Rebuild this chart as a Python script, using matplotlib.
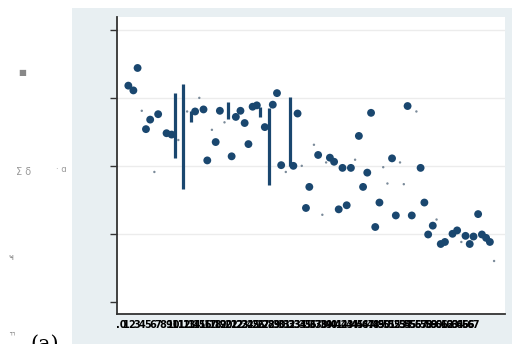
import numpy as np
import matplotlib
matplotlib.use("Agg")
import matplotlib.pyplot as plt
from matplotlib.patches import Rectangle

# estimates (large markers)
est_x = [0, 1.2, 2.2, 4.2, 5.2, 7.1, 9.1, 10.3, 15.9, 17.9, 18.8, 20.8, 21.8,
         24.6, 25.6, 26.7, 27.7, 28.6, 29.6, 30.6, 32.5, 34.4, 35.4, 36.4,
         39.3, 40.3, 42.3, 43.1, 45.2, 48.0, 49.0, 50.1, 51.0, 52.0, 53.0,
         54.9, 55.9, 56.9, 57.8, 58.8, 59.8, 62.8, 63.7, 66.5, 67.5, 69.6,
         70.5, 71.4, 72.5, 74.4, 75.4, 77.2, 78.3, 80.3, 81.3, 82.2, 83.3,
         84.2, 85.2, 86.1]
est_y = [3.18, 3.11, 3.44, 2.54, 2.68, 2.76, 2.48, 2.46, 2.80, 2.83, 2.08, 2.35,
         2.81, 2.14, 2.72, 2.81, 2.63, 2.32, 2.87, 2.89, 2.57, 2.90, 3.07, 2.01,
         2.00, 2.77, 1.38, 1.69, 2.16, 2.12, 2.06, 1.36, 1.97, 1.42, 1.97,
         2.44, 1.69, 1.90, 2.78, 1.10, 1.46, 2.11, 1.27, 2.88, 1.27, 1.97,
         1.46, 0.99, 1.12, 0.85, 0.88, 1.00, 1.05, 0.97, 0.85, 0.96, 1.29,
         0.99, 0.94, 0.88]

# raw observations (small markers)
obs_x = [3.2, 6.2, 11.9, 14.0, 16.9, 19.9, 22.9, 37.5, 41.3, 44.2, 46.2, 47.1,
         54.0, 60.7, 61.7, 64.7, 65.6, 68.6, 73.4, 79.3, 87.1]
obs_y = [2.81, 1.91, 2.38, 2.80, 3.00, 2.53, 2.64, 1.91, 2.00, 2.31, 1.28, 2.05,
         2.09, 1.98, 1.74, 2.05, 1.73, 2.80, 1.21, 0.88, 0.60]

# intervals
ci_x = [11.1, 13.0, 14.9, 23.7, 31.4, 33.5, 38.4]
ci_lo = [2.11, 1.66, 2.65, 2.69, 2.72, 1.72, 2.00]
ci_hi = [3.07, 3.20, 2.80, 2.94, 2.87, 2.85, 3.01]

y_ticks = [0, 1, 2, 3, 4]
x_labels = [".0"] + [str(k) for k in range(1, 67)] + ["67"]
x_label_pos = np.linspace(-1.7, 82.1, len(x_labels))

navy = "#1a476f"

fig = plt.figure(figsize=(5.12, 3.44), dpi=100)
fig.patch.set_facecolor("white")

# graph region background
fig.patches.append(Rectangle((72 / 512, 0), 1 - 72 / 512, 1 - 8 / 344,
                             transform=fig.transFigure, facecolor="#e8eff2",
                             edgecolor="none", zorder=-10))

ax = fig.add_axes([117 / 512, 1 - 314 / 344, (505 - 117) / 512, (314 - 17) / 344])
ax.set_facecolor("white")

ax.vlines(ci_x, ci_lo, ci_hi, color=navy, lw=2.3, zorder=3)
ax.scatter(est_x, est_y, s=32, color=navy, edgecolors="none", zorder=4)
ax.scatter(obs_x, obs_y, s=3, color="#7a8a99", edgecolors="none", zorder=3)

ax.set_xlim(-2.7, 89.7)
ax.set_ylim(-0.18, 4.19)
ax.set_yticks(y_ticks)
ax.set_yticklabels([])
ax.tick_params(axis="y", length=5, width=1, color="#333333", direction="out")
for yv in y_ticks[1:]:
    ax.axhline(yv, color="#ececec", lw=1, zorder=1)

ax.set_xticks(x_label_pos)
ax.set_xticklabels(x_labels, fontsize=7, fontweight="bold", color="black")
ax.tick_params(axis="x", length=0, pad=4)

for side in ["top", "right"]:
    ax.spines[side].set_visible(False)
for side in ["left", "bottom"]:
    ax.spines[side].set_color("#333333")
    ax.spines[side].set_linewidth(1.3)

# stray axis labels on the left margin
fig.text(18 / 512, 1 - 72 / 344, "■", fontsize=6, color="#888888", va="center")
fig.text(16 / 512, 1 - 172 / 344, "Σ δ̄", fontsize=7, color="#999999", va="center")
fig.text(56 / 512, 1 - 170 / 344, "· ɑ", fontsize=6, color="#999999", va="center")
fig.text(8 / 512, 1 - 258 / 344, "ҹ", fontsize=6, color="#888888", va="center")
fig.text(8 / 512, 1 - 333 / 344, "ㄲ", fontsize=5, color="#888888", va="center",
         family=["Noto Sans CJK KR", "DejaVu Sans"])
fig.text(30 / 512, -0.018, "(a)", fontsize=15, family="DejaVu Serif", color="black")

fig.savefig("out.png", dpi=100)
